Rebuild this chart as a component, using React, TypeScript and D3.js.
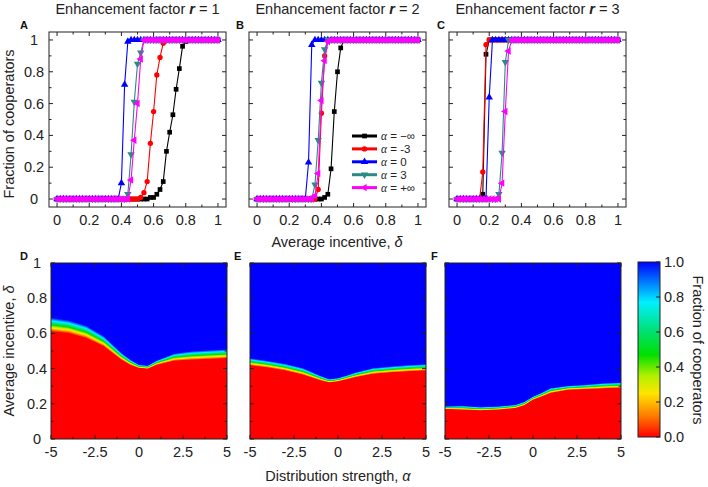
import React, { useMemo } from 'react'
import * as d3 from 'd3'

// delta grid of the simulations (step 0.02)
const deltas = d3.range(51).map(i => +(i * 0.02).toFixed(2))

// panel A, r = 1
const aBlack = [
  0, 0, 0, 0, 0, 0, 0, 0, 0, 0,
  0, 0, 0, 0, 0, 0, 0, 0, 0, 0,
  0, 0, 0, 0, 0, 0, 0, 0, 0, 0.01,
  0.01, 0.03, 0.06, 0.11, 0.3, 0.42, 0.53, 0.69, 0.82, 0.96,
  0.99, 1, 1, 1, 1, 1, 1, 1, 1, 1, 1]
const aRed = [
  0, 0, 0, 0, 0, 0, 0, 0, 0, 0,
  0, 0, 0, 0, 0, 0, 0, 0, 0, 0,
  0, 0, 0, 0, 0, 0, 0.01, 0.04, 0.11, 0.35,
  0.55, 0.78, 0.89, 0.98, 1, 1, 1, 1, 1, 1,
  1, 1, 1, 1, 1, 1, 1, 1, 1, 1, 1]
const aBlue = [
  0, 0, 0, 0, 0, 0, 0, 0, 0, 0,
  0, 0, 0, 0, 0, 0, 0, 0, 0, 0,
  0.1, 0.72, 0.99, 1, 1, 1, 1, 1, 1, 1,
  1, 1, 1, 1, 1, 1, 1, 1, 1, 1,
  1, 1, 1, 1, 1, 1, 1, 1, 1, 1, 1]
const aTeal = [
  0, 0, 0, 0, 0, 0, 0, 0, 0, 0,
  0, 0, 0, 0, 0, 0, 0, 0, 0, 0,
  0, 0, 0.03, 0.28, 0.61, 0.85, 0.92, 1, 1, 1,
  1, 1, 1, 1, 1, 1, 1, 1, 1, 1,
  1, 1, 1, 1, 1, 1, 1, 1, 1, 1, 1]
const aMagenta = [
  0, 0, 0, 0, 0, 0, 0, 0, 0, 0,
  0, 0, 0, 0, 0, 0, 0, 0, 0, 0,
  0, 0, 0, 0.12, 0.37, 0.6, 0.88, 1, 1, 1,
  1, 1, 1, 1, 1, 1, 1, 1, 1, 1,
  1, 1, 1, 1, 1, 1, 1, 1, 1, 1, 1]

// panel B, r = 2
const bBlack = [
  0, 0, 0, 0, 0, 0, 0, 0, 0, 0,
  0, 0, 0, 0, 0, 0, 0, 0, 0, 0,
  0, 0.01, 0.03, 0.19, 0.55, 0.8, 0.95, 1, 1, 1,
  1, 1, 1, 1, 1, 1, 1, 1, 1, 1,
  1, 1, 1, 1, 1, 1, 1, 1, 1, 1, 1]
const bRed = [
  0, 0, 0, 0, 0, 0, 0, 0, 0, 0,
  0, 0, 0, 0, 0, 0, 0, 0, 0, 0.06,
  0.54, 0.9, 1, 1, 1, 1, 1, 1, 1, 1,
  1, 1, 1, 1, 1, 1, 1, 1, 1, 1,
  1, 1, 1, 1, 1, 1, 1, 1, 1, 1, 1]
const bBlue = [
  0, 0, 0, 0, 0, 0, 0, 0, 0, 0,
  0, 0, 0, 0, 0, 0, 0.23, 0.97, 1, 1,
  1, 1, 1, 1, 1, 1, 1, 1, 1, 1,
  1, 1, 1, 1, 1, 1, 1, 1, 1, 1,
  1, 1, 1, 1, 1, 1, 1, 1, 1, 1, 1]
const bTeal = [
  0, 0, 0, 0, 0, 0, 0, 0, 0, 0,
  0, 0, 0, 0, 0, 0, 0, 0, 0.09, 0.37,
  0.73, 0.94, 1, 1, 1, 1, 1, 1, 1, 1,
  1, 1, 1, 1, 1, 1, 1, 1, 1, 1,
  1, 1, 1, 1, 1, 1, 1, 1, 1, 1, 1]
const bMagenta = [
  0, 0, 0, 0, 0, 0, 0, 0, 0, 0,
  0, 0, 0, 0, 0, 0, 0, 0, 0.02, 0.16,
  0.62, 0.87, 0.99, 1, 1, 1, 1, 1, 1, 1,
  1, 1, 1, 1, 1, 1, 1, 1, 1, 1,
  1, 1, 1, 1, 1, 1, 1, 1, 1, 1, 1]

// panel C, r = 3
const cBlack = [
  0, 0, 0, 0, 0, 0, 0, 0, 0.03, 0.91,
  1, 1, 1, 1, 1, 1, 1, 1, 1, 1,
  1, 1, 1, 1, 1, 1, 1, 1, 1, 1,
  1, 1, 1, 1, 1, 1, 1, 1, 1, 1,
  1, 1, 1, 1, 1, 1, 1, 1, 1, 1, 1]
const cRed = [
  0, 0, 0, 0, 0, 0, 0, 0, 0.17, 0.97,
  1, 1, 1, 1, 1, 1, 1, 1, 1, 1,
  1, 1, 1, 1, 1, 1, 1, 1, 1, 1,
  1, 1, 1, 1, 1, 1, 1, 1, 1, 1,
  1, 1, 1, 1, 1, 1, 1, 1, 1, 1, 1]
const cBlue = [
  0, 0, 0, 0, 0, 0, 0, 0, 0, 0,
  0.64, 1, 1, 1, 1, 1, 1, 1, 1, 1,
  1, 1, 1, 1, 1, 1, 1, 1, 1, 1,
  1, 1, 1, 1, 1, 1, 1, 1, 1, 1,
  1, 1, 1, 1, 1, 1, 1, 1, 1, 1, 1]
const cTeal = [
  0, 0, 0, 0, 0, 0, 0, 0, 0, 0,
  0, 0, 0, 0.03, 0.29, 0.86, 1, 1, 1, 1,
  1, 1, 1, 1, 1, 1, 1, 1, 1, 1,
  1, 1, 1, 1, 1, 1, 1, 1, 1, 1,
  1, 1, 1, 1, 1, 1, 1, 1, 1, 1, 1]
const cMagenta = [
  0, 0, 0, 0, 0, 0, 0, 0, 0, 0,
  0, 0, 0, 0, 0.1, 0.55, 0.93, 1, 1, 1,
  1, 1, 1, 1, 1, 1, 1, 1, 1, 1,
  1, 1, 1, 1, 1, 1, 1, 1, 1, 1,
  1, 1, 1, 1, 1, 1, 1, 1, 1, 1, 1]

const legendLabels = ['−∞', '-3', '0', '3', '+∞']
const seriesColors = ['#000000', '#ff0000', '#0000ff', '#2b8a84', '#ff00ff']

const topTicks = [0, 0.1, 0.2, 0.3, 0.4, 0.5, 0.6, 0.7, 0.8, 0.9, 1]
const topLabels = [0, 0.2, 0.4, 0.6, 0.8, 1]

// phase diagrams: edge of the red zone (lower) and start of the blue zone (upper) vs alpha
const alphaGrid = [-5, -4, -3, -2, -1, -0.5, 0, 0.5, 1, 2, 3, 4, 5]
const dLower = [0.61, 0.6, 0.572, 0.525, 0.449, 0.42, 0.402, 0.398, 0.42, 0.443, 0.449, 0.453, 0.458]
const dUpper = [0.69, 0.675, 0.645, 0.585, 0.49, 0.452, 0.422, 0.418, 0.446, 0.486, 0.499, 0.505, 0.51]
const eLower = [0.417, 0.405, 0.388, 0.364, 0.332, 0.32, 0.326, 0.338, 0.35, 0.369, 0.377, 0.383, 0.388]
const eUpper = [0.46, 0.445, 0.428, 0.404, 0.36, 0.341, 0.347, 0.362, 0.379, 0.404, 0.413, 0.421, 0.426]
const fLower = [0.169, 0.165, 0.161, 0.165, 0.174, 0.19, 0.222, 0.24, 0.26, 0.278, 0.282, 0.286, 0.29]
const fUpper = [0.186, 0.189, 0.182, 0.186, 0.195, 0.212, 0.242, 0.264, 0.29, 0.303, 0.309, 0.318, 0.322]

const heatXTicks = [-5, -3.75, -2.5, -1.25, 0, 1.25, 2.5, 3.75, 5]
const heatXLabels = [-5, -2.5, 0, 2.5, 5]
const heatYLabels = [0, 0.2, 0.4, 0.6, 0.8, 1]
const cbarLabels = ['0.0', '0.2', '0.4', '0.6', '0.8', '1.0']

const cmapStops = [0, 0.12, 0.25, 0.35, 0.47, 0.6, 0.77, 0.88, 1]
const cmapColors = ['#ff0000', '#ff7a00', '#ffe600', '#b0f000', '#00e000', '#00e070', '#00f0ff', '#0080ff', '#0000ff']
const cmap = d3.scaleLinear<string>().domain(cmapStops).range(cmapColors).clamp(true)

const sans = "'Liberation Sans', Arial, Helvetica, sans-serif"
const TOP_T = 32, TOP_B = 207, PW = 177
const HEAT_T = 263, HEAT_B = 439, HW = 176

const symbols = [
  { type: d3.symbolSquare, size: 22, rot: 0 },
  { type: d3.symbolCircle, size: 22, rot: 0 },
  { type: d3.symbolTriangle, size: 24, rot: 0 },
  { type: d3.symbolTriangle, size: 24, rot: 180 },
  { type: d3.symbolTriangle, size: 24, rot: -90 },
]

function Marker({ i, x, y }) {
  const s = symbols[i]
  const path = d3.symbol().type(s.type).size(s.size)()
  return <path d={path} transform={`translate(${x},${y}) rotate(${s.rot})`} fill={seriesColors[i]} />
}

function TopPanel({ left, series, letter, letterX, r, yLabels, legend }) {
  const x = d3.scaleLinear().domain([-0.05, 1.05]).range([left, left + PW])
  const y = d3.scaleLinear().domain([-0.05, 1.05]).range([TOP_B, TOP_T])
  const line = d3.line<number>().x((d, i) => x(deltas[i])).y(d => y(d))
  const major = v => topLabels.some(l => Math.abs(l - v) < 1e-6)
  return (
    <g>
      <text x={left + PW / 2} y={14} textAnchor="middle" fontSize={14.5} fill="#222" fontFamily={sans}>
        Enhancement factor <tspan fontWeight="bold" fontStyle="italic">r</tspan> = {r}
      </text>
      <text x={letterX} y={29} fontSize={11} fontWeight="bold" fontFamily={sans} fill="#111">{letter}</text>
      {series.map((s, si) => (
        <g key={si}>
          <path d={line(s)} fill="none" stroke={seriesColors[si]} strokeWidth={1.1} />
          {s.map((v, k) => <Marker key={k} i={si} x={x(deltas[k])} y={y(v)} />)}
        </g>
      ))}
      <rect x={left} y={TOP_T} width={PW} height={TOP_B - TOP_T} fill="none" stroke="#222" strokeWidth={1} />
      {topTicks.map(t => {
        const L = major(t) ? 4 : 2.5
        return (
          <g key={t} stroke="#222" strokeWidth={1}>
            <line x1={x(t)} x2={x(t)} y1={TOP_B} y2={TOP_B - L} />
            <line x1={x(t)} x2={x(t)} y1={TOP_T} y2={TOP_T + L} />
            <line x1={left} x2={left + L} y1={y(t)} y2={y(t)} />
            <line x1={left + PW} x2={left + PW - L} y1={y(t)} y2={y(t)} />
          </g>
        )
      })}
      {topLabels.map(t => (
        <text key={t} x={x(t)} y={225} textAnchor="middle" fontSize={14.5} fill="#222" fontFamily={sans}>{t}</text>
      ))}
      {yLabels && topLabels.map(t => (
        <text key={t} x={left - 15} y={y(t) + 5} textAnchor="middle" fontSize={14.5} fill="#222" fontFamily={sans}>{t}</text>
      ))}
      {legend && legendLabels.map((lab, i) => {
        const ly = 136 + i * 12.9
        return (
          <g key={lab}>
            <line x1={352} x2={377} y1={ly} y2={ly} stroke={seriesColors[i]} strokeWidth={3} />
            <Marker i={i} x={364.5} y={ly} />
            <text x={381} y={ly + 4} fontSize={11.5} fill="#222" fontFamily={sans}>
              <tspan fontFamily="'Liberation Serif', 'Times New Roman', serif" fontStyle="italic">α</tspan> = {lab}
            </text>
          </g>
        )
      })}
    </g>
  )
}

function heatImage(lower, upper, x, y) {
  const [x0, x1] = x.range()
  const [yb, yt] = y.range()
  const w = Math.round(x1 - x0), h = Math.round(yb - yt)
  const cv = document.createElement('canvas')
  cv.width = w
  cv.height = h
  const ctx = cv.getContext('2d')
  if (!ctx) return ''
  const img = ctx.createImageData(w, h)
  const lo = d3.scaleLinear().domain(alphaGrid).range(lower)
  const hi = d3.scaleLinear().domain(alphaGrid).range(upper)
  for (let i = 0; i < w; i++) {
    const a = x.invert(x0 + i + 0.5)
    const l = lo(a), u = hi(a)
    for (let j = 0; j < h; j++) {
      const dl = y.invert(yt + j + 0.5)
      const f = Math.max(0, Math.min(1, (dl - l) / (u - l)))
      const c = d3.rgb(cmap(f))
      const k = (j * w + i) * 4
      img.data[k] = c.r
      img.data[k + 1] = c.g
      img.data[k + 2] = c.b
      img.data[k + 3] = 255
    }
  }
  ctx.putImageData(img, 0, 0)
  return cv.toDataURL()
}

function HeatPanel({ left, lower, upper, letter, letterX, yLabels }) {
  const x = d3.scaleLinear().domain([-5, 5]).range([left, left + HW])
  const y = d3.scaleLinear().domain([0, 1]).range([HEAT_B, HEAT_T])
  const href = useMemo(() => heatImage(lower, upper, x, y), [left])
  return (
    <g>
      <text x={letterX} y={260} fontSize={11} fontWeight="bold" fontFamily={sans} fill="#111">{letter}</text>
      <image href={href} x={left} y={HEAT_T} width={HW} height={HEAT_B - HEAT_T} preserveAspectRatio="none" />
      <rect x={left} y={HEAT_T} width={HW} height={HEAT_B - HEAT_T} fill="none" stroke="#222" strokeWidth={1} />
      {heatXTicks.map(t => {
        const L = heatXLabels.includes(t) ? 4 : 2.5
        return (
          <g key={t} stroke="#222" strokeWidth={1}>
            <line x1={x(t)} x2={x(t)} y1={HEAT_B} y2={HEAT_B - L} />
            <line x1={x(t)} x2={x(t)} y1={HEAT_T} y2={HEAT_T + L} />
          </g>
        )
      })}
      {topTicks.map(t => {
        const L = heatYLabels.some(v => Math.abs(v - t) < 1e-6) ? 4 : 2.5
        return (
          <g key={t} stroke="#222" strokeWidth={1}>
            <line x1={left} x2={left + L} y1={y(t)} y2={y(t)} />
            <line x1={left + HW} x2={left + HW - L} y1={y(t)} y2={y(t)} />
          </g>
        )
      })}
      {heatXLabels.map(t => (
        <text key={t} x={x(t)} y={457} textAnchor="middle" fontSize={14.5} fill="#222" fontFamily={sans}>{t}</text>
      ))}
      {yLabels && heatYLabels.map(t => (
        <text key={t} x={left - 14} y={y(t) + 5} textAnchor="middle" fontSize={14.5} fill="#222" fontFamily={sans}>{t}</text>
      ))}
    </g>
  )
}

export default function App() {
  const cbX = 638, cbW = 22
  const cbY = d3.scaleLinear().domain([0, 1]).range([437, 262])
  return (
    <svg width={708} height={487} style={{ position: 'absolute', left: 0, top: 0, background: '#fff' }}>
      <defs>
        <linearGradient id="cbar" x1="0" y1="1" x2="0" y2="0">
          {cmapStops.map((s, i) => <stop key={i} offset={s} stopColor={cmapColors[i]} />)}
        </linearGradient>
      </defs>
      <rect width={708} height={487} fill="#fff" />

      <TopPanel left={49} series={[aBlack, aRed, aBlue, aTeal, aMagenta]} letter="A" letterX={20} r="1" yLabels legend={false} />
      <TopPanel left={249} series={[bBlack, bRed, bBlue, bTeal, bMagenta]} letter="B" letterX={236} r="2" yLabels={false} legend />
      <TopPanel left={449} series={[cBlack, cRed, cBlue, cTeal, cMagenta]} letter="C" letterX={437} r="3" yLabels={false} legend={false} />

      <text transform="translate(14,124) rotate(-90)" textAnchor="middle" fontSize={14.5} fill="#222" fontFamily={sans}>Fraction of cooperators</text>
      <text x={337} y={247} textAnchor="middle" fontSize={14.5} fill="#222" fontFamily={sans}>
        Average incentive, <tspan fontStyle="italic">δ</tspan>
      </text>

      <HeatPanel left={51} lower={dLower} upper={dUpper} letter="D" letterX={20} yLabels />
      <HeatPanel left={250} lower={eLower} upper={eUpper} letter="E" letterX={234} yLabels={false} />
      <HeatPanel left={445} lower={fLower} upper={fUpper} letter="F" letterX={431} yLabels={false} />

      <text transform="translate(14,351) rotate(-90)" textAnchor="middle" fontSize={14.5} fill="#222" fontFamily={sans}>
        Average incentive, <tspan fontStyle="italic">δ</tspan>
      </text>
      <text x={338} y={481} textAnchor="middle" fontSize={14.5} fill="#222" fontFamily={sans}>
        Distribution strength, <tspan fontStyle="italic">α</tspan>
      </text>

      <rect x={cbX} y={262} width={cbW} height={175} fill="url(#cbar)" stroke="#222" strokeWidth={1} />
      {cbarLabels.map((l, i) => (
        <g key={l}>
          <line x1={cbX + cbW} x2={cbX + cbW - 4} y1={cbY(i / 5)} y2={cbY(i / 5)} stroke="#222" />
          <text x={664} y={cbY(i / 5) + 5} fontSize={14.5} fill="#222" fontFamily={sans}>{l}</text>
        </g>
      ))}
      <text transform="translate(693,350) rotate(90)" textAnchor="middle" fontSize={14.5} fill="#222" fontFamily={sans}>Fraction of cooperators</text>
    </svg>
  )
}
